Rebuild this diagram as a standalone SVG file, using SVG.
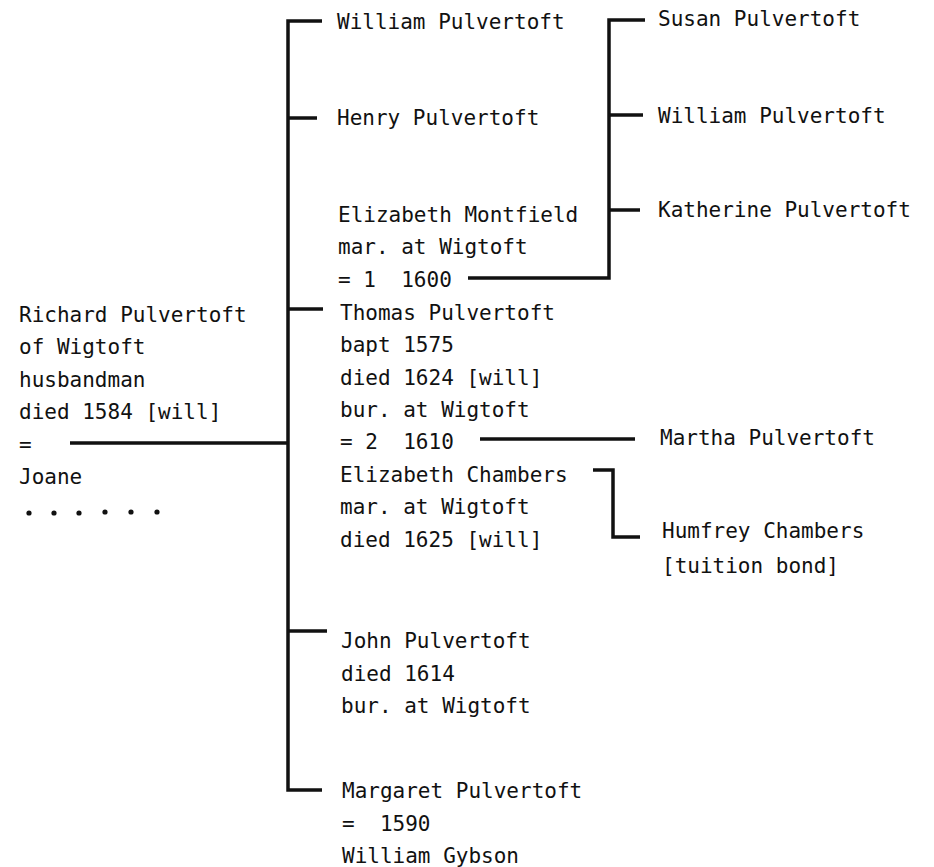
<svg xmlns="http://www.w3.org/2000/svg" width="934" height="867" viewBox="0 0 934 867">
<style>
text{font-family:"DejaVu Sans Mono","Liberation Mono",monospace;font-size:21px;fill:#111;white-space:pre}
.ln{fill:none;stroke:#111;stroke-width:3.5;stroke-linecap:butt;stroke-linejoin:miter}
</style>
<rect width="934" height="867" fill="#fff"/>
<g id="connectors" class="ln">
<path d="M322,21 H288 V790 H322"/>
<path d="M288,118 H317"/>
<path d="M288,309 H323"/>
<path d="M288,631 H327"/>
<path d="M70,443 H288"/>
<path d="M645,20 H609 V278 H468"/>
<path d="M609,115 H643"/>
<path d="M609,210 H640"/>
<path d="M480,439 H635"/>
<path d="M593,470 H613 V537 H640"/>
</g>
<g id="richard">
<text x="19" y="322">Richard Pulvertoft</text>
<text x="19" y="354">of Wigtoft</text>
<text x="19" y="387">husbandman</text>
<text x="19" y="419">died 1584 [will]</text>
<text x="19" y="452">=</text>
<text x="19" y="484">Joane</text>
<g fill="#111"><circle cx="29" cy="513" r="2.6"/><circle cx="54" cy="513" r="2.6"/><circle cx="79" cy="513" r="2.6"/><circle cx="105" cy="512" r="2.6"/><circle cx="131" cy="512" r="2.6"/><circle cx="157" cy="512" r="2.6"/></g>
</g>
<g id="william1"><text x="337" y="29">William Pulvertoft</text></g>
<g id="henry"><text x="337" y="125">Henry Pulvertoft</text></g>
<g id="elizabethM">
<text x="338" y="222">Elizabeth Montfield</text>
<text x="338" y="254">mar. at Wigtoft</text>
<text x="338" y="287">= 1  1600</text>
</g>
<g id="thomas">
<text x="340" y="320">Thomas Pulvertoft</text>
<text x="340" y="352">bapt 1575</text>
<text x="340" y="385">died 1624 [will]</text>
<text x="340" y="417">bur. at Wigtoft</text>
<text x="340" y="449">= 2  1610</text>
</g>
<g id="elizabethC">
<text x="340" y="482">Elizabeth Chambers</text>
<text x="340" y="514">mar. at Wigtoft</text>
<text x="340" y="547">died 1625 [will]</text>
</g>
<g id="john">
<text x="341" y="648">John Pulvertoft</text>
<text x="341" y="681">died 1614</text>
<text x="341" y="713">bur. at Wigtoft</text>
</g>
<g id="margaret">
<text x="342" y="798">Margaret Pulvertoft</text>
<text x="342" y="831">=  1590</text>
<text x="342" y="863">William Gybson</text>
</g>
<g id="susan"><text x="658" y="26">Susan Pulvertoft</text></g>
<g id="william2"><text x="658" y="123">William Pulvertoft</text></g>
<g id="katherine"><text x="658" y="217">Katherine Pulvertoft</text></g>
<g id="martha"><text x="660" y="445">Martha Pulvertoft</text></g>
<g id="humfrey">
<text x="662" y="538">Humfrey Chambers</text>
<text x="662" y="573">[tuition bond]</text>
</g>
</svg>
